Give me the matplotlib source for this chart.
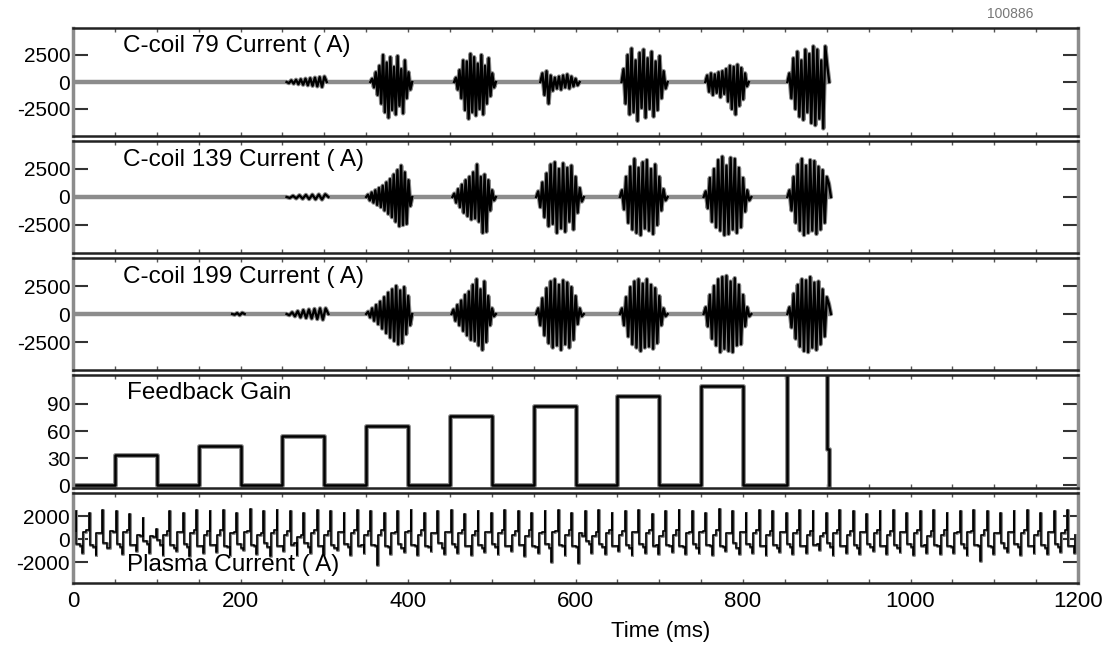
import numpy as np
import matplotlib.pyplot as plt
from matplotlib.ticker import MultipleLocator

plt.rcParams['font.family'] = ['Liberation Sans', 'DejaVu Sans']

# C-coil bursts: (start ms, end ms, alternating peak currents in A)
coil79 = [
    (255, 303, [-100, 150, -150, 200, -200, 250, -250, 300, -300, 350, -350, 400, -400, 450, -450, 500]),
    (355, 405, [300, -500, 900, -1200, 1500, -2000, 2500, -2800, 1800, -3300, 2300, -2600, 1400, -3000,
                2400, -2200, 1200, -2900, 2000, -1500, 900, -700]),
    (455, 505, [400, -700, 1100, -1500, 2000, -2600, 1900, -3400, 2600, -2800, 2300, -3100, 1700, -2500,
                2500, -3000, 1500, -2000, 2200, -1300, 800, -500]),
    (558, 605, [800, -1200, 1000, -2000, 600, -800, 400, -600, 500, -700, 600, -500, 700, -600, 500, -400,
                300, -300]),
    (655, 710, [1200, -2000, 2500, -3000, 3100, -2800, 2000, -3600, 2700, -2400, 3000, -3300, 2200, -2500,
                2800, -3200, 1900, -2600, 2400, -1500, 1000, -600]),
    (755, 807, [600, -900, 800, -1200, 700, -1000, 900, -1400, 1000, -1100, 1200, -1800, 1500, -2500, 1400,
                -3000, 1600, -2200, 1300, -1600, 800, -400]),
    (853, 903, [800, -1500, 2200, -2500, 2800, -3200, 2000, -3500, 3000, -2800, 2600, -3800, 3300, -4000,
                3000, -3400, 2000, -4300, 3300, 1500]),
]
coil139 = [
    (255, 305, [-80, 100, -120, 150, -150, 180, -180, 200, -200, 220, -220, 240]),
    (350, 405, [200, -300, 400, -500, 600, -700, 800, -900, 1000, -1200, 1300, -1500, 1600, -1800, 2000,
                -2200, 2400, -2600, 2800, -2500, 2200, -2400, 1500, -800]),
    (453, 505, [300, -500, 700, -900, 1100, -1400, 1500, -1700, 1800, -2000, 2200, -1900, 2900, -2200,
                1800, -3200, 2000, -3100, 1500, -1200, 600, -300]),
    (553, 610, [500, -900, 1300, -1800, 2100, -2600, 2900, -2400, 3100, -3200, 2500, -2800, 3000, -3100,
                2600, -2200, 2800, -2900, 1800, -1400, 800, -400]),
    (653, 710, [600, -1100, 1800, -2300, 2700, -2900, 3400, -3200, 2600, -3400, 3100, -2800, 3300, -3000,
                2500, -3300, 2900, -2500, 1800, -1200, 700, -300]),
    (753, 810, [500, -1000, 1700, -2200, 2500, -2700, 3300, -3000, 3600, -3400, 2800, -3300, 3500, -2900,
                3400, -3200, 2600, -2700, 1700, -1300, 600, -300]),
    (853, 905, [600, -1200, 1800, -2300, 2900, -3000, 3400, -3400, 2800, -3200, 3300, -3000, 3200, -3300,
                2700, -2900, 2400, -2300, 1800, 1200]),
]
coil199 = [
    (190, 205, [-60, 80, -100, 100]),
    (255, 305, [-100, 150, -200, 250, -300, 350, -350, 400, -400, 450, -450, 500, -500, 500]),
    (350, 405, [200, -300, 500, -600, 800, -900, 1100, -1300, 1500, -1700, 1900, -2100, 2200, -2400, 2500,
                -2700, 2100, -2600, 2400, -1800, 1600, -1000]),
    (452, 505, [400, -600, 800, -1000, 1200, -1500, 1700, -1900, 2000, -2300, 2600, -2400, 3100, -2800,
                2200, -3200, 2900, -2500, 1600, -1000, 500, -200]),
    (553, 610, [500, -1000, 1400, -1900, 2300, -2600, 2900, -3000, 3100, -2800, 2600, -3200, 3000, -2700,
                2800, -3000, 2400, -2300, 1600, -900, 500, -200]),
    (653, 710, [500, -1000, 1500, -2000, 2400, -2700, 2900, -3000, 3100, -3300, 2700, -3000, 3100, -2900,
                2600, -3100, 2300, -2600, 1600, -1000, 500, -200]),
    (753, 810, [600, -1100, 1700, -2200, 2500, -2800, 3100, -3400, 3300, -3100, 3400, -3300, 2900, -3400,
                3200, -2800, 2600, -2700, 1700, -1100, 600, -200]),
    (853, 905, [600, -1200, 1800, -2200, 2600, -2900, 3100, -3300, 3000, -3400, 3300, -3000, 2800, -3200,
                2900, -2700, 2200, -2000, 1500, 900]),
]

# feedback gain steps
gain_t = [0, 50, 100, 150, 200, 250, 300, 350, 400, 450, 500, 550, 600, 650, 700, 750, 800, 852, 900, 903]
gain_v = [0, 33, 0, 44, 0, 55, 0, 66, 0, 77, 0, 88, 0, 99, 0, 110, 0, 140, 40, 0]

# plasma current, one cycle every 8 ms (band, spike, band), values in units of 100 A
ip_band = [7, -6, 8, -7, 5, -8, 6, -7, 8, -5, 3, -4, 2, -5, 7, -8, 6, -7, 8, -6,
           7, -5, 8, -7, 6, -8, 7, -6, 5, -7, 8, -6, 7, -3, 4, -7, 8, -6, 7, -8,
           6, -7, 8, -5, 7, -6, 8, -7, 6, -8, 7, -6, 8, -7, 5, -8, 6, -7, 8, -6,
           7, -8, 6, -7, 8, -6, 7, -5, 8, -7, 6, -8, 7, -6, 8, -7, 3, -4, 6, -7,
           8, -6, 7, -8, 6, -7, 8, -5, 7, -6, 8, -7, 6, -8, 7, -6, 8, -7, 5, -8,
           6, -7, 8, -6, 7, -8, 6, -7, 8, -6, 7, -4, 5, -7, 8, -6, 7, -8, 6, -7,
           8, -6, 7, -8, 6, -7, 8, -5, 7, -6, 8, -7, 6, -8, 7, -6, 8, -7, 5, -8,
           6, -7, 8, -6, 7, -8, 6, -7, 8, -6]
ip_spike = [24, -12, 23, -14, 25, -8, 24, -13, 22, -10,
            18, -12, 9, -14, 24, -10, 23, -15, 25, -12,
            24, -11, 25, -14, 23, -9, 26, -13, 24, -15,
            25, -10, 24, -14, 23, -12, 25, -13, 24, -9,
            23, -14, 25, -12, 24, -22, 23, -13, 24, -11,
            25, -14, 23, -10, 24, -13, 25, -12, 22, -14,
            24, -11, 23, -13, 25, -10, 24, -15, 23, -12,
            24, -20, 25, -14, 23, -21, 24, -12, 25, -13,
            23, -10, 24, -14, 25, -12, 22, -13, 24, -11,
            25, -13, 24, -12, 23, -14, 26, -10, 24, -13,
            23, -12, 25, -14, 24, -11, 23, -13, 25, -12,
            24, -9, 23, -14, 25, -12, 24, -13, 22, -10,
            24, -13, 25, -11, 23, -14, 24, -12, 25, -13,
            23, -12, 24, -14, 25, -19, 24, -13, 23, -11,
            24, -14, 25, -12, 23, -13, 24, -11, 25, -12]
ip_band2 = [-4, 6, -5, 5, -3, 7, -4, 6, -5, 4, -2, 3, -1, 4, -5, 6, -4, 5, -6, 4,
            -5, 4, -6, 5, -4, 6, -5, 4, -3, 5, -6, 4, -5, 2, -3, 5, -6, 4, -5, 6,
            -4, 5, -6, 4, -5, 4, -6, 5, -4, 6, -5, 4, -6, 5, -3, 6, -4, 5, -6, 4,
            -5, 6, -4, 5, -6, 4, -5, 3, -6, 5, -4, 6, -5, 4, -6, 5, -2, 3, -4, 5,
            -6, 4, -5, 6, -4, 5, -6, 3, -5, 4, -6, 5, -4, 6, -5, 4, -6, 5, -3, 6,
            -4, 5, -6, 4, -5, 6, -4, 5, -6, 4, -5, 3, -3, 5, -6, 4, -5, 6, -4, 5,
            -6, 4, -5, 6, -4, 5, -6, 3, -5, 4, -6, 5, -4, 6, -5, 4, -6, 5, -3, 6,
            -4, 5, -6, 4, -5, 6, -4, 5, -6, 4]

xticks = [0, 200, 400, 600, 800, 1000, 1200]


def coil_trace(bursts):
    t, v = [0], [0]
    segs = []
    for t0, t1, peaks in bursts:
        tt = np.linspace(t0, t1, len(peaks) + 2)
        vv = [0] + peaks + [0]
        t += list(tt)
        v += vv
        segs.append((tt, vv))
    t.append(900)
    v.append(0)
    return t, v, segs


fig = plt.figure(figsize=(11.12, 6.46), dpi=100)
L, W = 73 / 1112, 1005 / 1112
boxes = [(28, 136), (141, 253), (258, 370), (375, 488), (493, 583)]
axes = []
for top, bot in boxes:
    ax = fig.add_axes([L, (646 - bot) / 646, W, (bot - top) / 646])
    axes.append(ax)

gray = '#8c8c8c'
coils = [(coil79, 'C-coil 79 Current ( A)'), (coil139, 'C-coil 139 Current ( A)'),
         (coil199, 'C-coil 199 Current ( A)')]
for ax, (bursts, name) in zip(axes[:3], coils):
    t, v, segs = coil_trace(bursts)
    ax.plot(t, v, color=gray, lw=3.2)
    for tt, vv in segs:
        ax.plot(tt, vv, color='black', lw=1.7)
    ax.set_ylim(-5000, 5000)
    ax.set_yticks([-2500, 0, 2500])
    ax.set_yticklabels(['-2500', '0', '2500'])
    ax.text(0.05, 0.83, name, transform=ax.transAxes, fontsize=17.5, va='center', ha='left')

ax = axes[3]
ax.step(gain_t, gain_v, where='post', color=gray, lw=3.5)
ax.step(gain_t, gain_v, where='post', color='black', lw=1.8)
ax.set_ylim(-3, 122)
ax.set_yticks([0, 30, 60, 90])
ax.text(0.054, 0.84, 'Feedback Gain', transform=ax.transAxes, fontsize=17.5, va='center', ha='left')

ax = axes[4]
n = len(ip_spike)
cyc = np.arange(n) * 8.0
tp = np.empty(3 * n)
tp[0::3], tp[1::3], tp[2::3] = cyc, cyc + 3.0, cyc + 4.0
vp = np.empty(3 * n)
vp[0::3] = np.array(ip_band) * 100
vp[1::3] = np.array(ip_spike) * 100
vp[2::3] = np.array(ip_band2) * 100
ax.plot(tp, vp, color=gray, lw=2.2, drawstyle='steps-post')
ax.plot(tp, vp, color='black', lw=1.1, drawstyle='steps-post')
ax.set_ylim(-3800, 4000)
ax.set_yticks([-2000, 0, 2000])
ax.set_yticklabels(['-2000', '0', '2000'])
ax.text(0.054, 0.2, 'Plasma Current ( A)', transform=ax.transAxes, fontsize=17.5, va='center', ha='left')

for i, ax in enumerate(axes):
    ax.set_xlim(0, 1200)
    ax.set_xticks(xticks)
    ax.xaxis.set_minor_locator(MultipleLocator(50))
    ax.tick_params(axis='y', direction='in', length=11, width=1.5, left=True, right=True,
                   labelsize=15, pad=2, color='#333333')
    ax.tick_params(axis='x', which='both', direction='in', top=True, bottom=True,
                   length=3, width=1, color='#555555')
    for s in ['left', 'right']:
        ax.spines[s].set_color(gray)
        ax.spines[s].set_linewidth(2.5)
    for s in ['top', 'bottom']:
        ax.spines[s].set_color('#222222')
        ax.spines[s].set_linewidth(1.8)
    if i < 4:
        ax.tick_params(axis='x', labelbottom=False)
    else:
        ax.tick_params(axis='x', labelsize=16, pad=6)

fig.text(661 / 1112, 1 - 632 / 646, 'Time (ms)', fontsize=16, ha='center', va='center')
fig.text(1010 / 1112, 1 - 14 / 646, '100886', fontsize=10, color='#777777', ha='center', va='center')

fig.savefig('out.png', dpi=100)
